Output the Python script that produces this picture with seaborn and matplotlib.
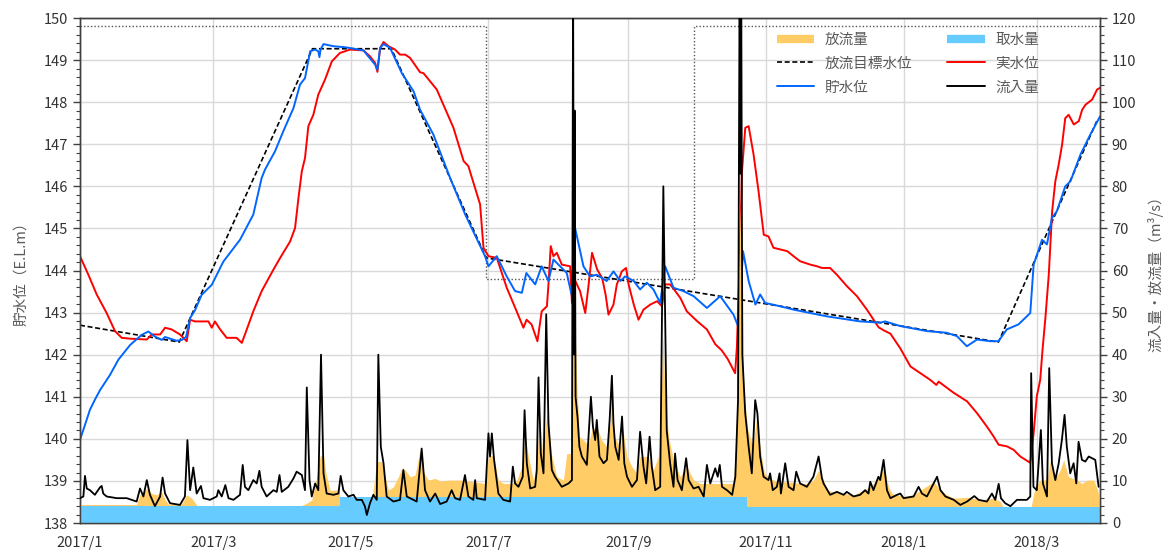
import numpy as np
import pandas as pd
import matplotlib
matplotlib.use("Agg")
import matplotlib.pyplot as plt
import matplotlib.dates as mdates
from matplotlib.lines import Line2D
from matplotlib.ticker import MultipleLocator, FuncFormatter
import seaborn as sns

START = pd.Timestamp("2017-01-01")
END = pd.Timestamp("2018-03-29")

# ---- 貯水位 (E.L.m) : day offset from 2017-01-01, level ----
storage_day = [0, 2.2, 4.4, 6.6, 8.9, 13.3, 17, 22.2, 27.3, 30.3, 33.2, 36.2, 37.7, 42.8, 45.1, 47,
               48.8, 51, 53.9, 58.4, 63.5, 70.9, 76.8, 80.5, 82, 86.4, 90.1, 94.6, 97.5, 99.7, 102,
               104.2, 105.6, 106.1, 106.6, 107.9, 112.3, 118.2, 125.6, 127.1, 130.8, 131.8, 133,
               134.5, 137.4, 142.6, 147.8, 150.7, 156.6, 164, 170.7, 179.5, 181, 184.7, 189.1,
               192.8, 195.8, 197.8, 201.7, 204.6, 207.6, 209.8, 215.7, 217.8, 219.4, 223.1, 226,
               229, 233.4, 236.4, 239.4, 241.6, 245.4, 248.2, 251.2, 254.1, 257.1, 259.3, 263,
               267.4, 271.9, 277.8, 283.7, 289.6, 291.9, 293.8, 296.3, 299.3, 301.4, 303.6, 310.3,
               316.2, 331, 345.8, 354.6, 356.8, 363.5, 375.3, 384.1, 388.6, 393, 397.5, 403.3,
               407, 410.7, 415.9, 421.1, 422.6, 426.3, 428.5, 430.7, 432.9, 436.6, 438.9, 443.3,
               447.7, 452]
storage_lv = [139.98, 140.33, 140.69, 140.93, 141.16, 141.52, 141.88, 142.23, 142.47, 142.55,
              142.43, 142.35, 142.42, 142.33, 142.35, 142.42, 142.87, 143.06, 143.42, 143.66,
              144.21, 144.73, 145.33, 146.2, 146.4, 146.83, 147.31, 147.86, 148.42, 148.57,
              149.21, 149.25, 149.21, 149.07, 149.25, 149.38, 149.33, 149.3, 149.23, 149.13,
              148.89, 148.77, 149.29, 149.38, 149.29, 148.69, 148.26, 147.82, 147.23, 146.2,
              145.33, 144.34, 144.1, 144.34, 143.86, 143.51, 143.47, 143.94, 143.67, 144.1,
              143.75, 144.26, 143.94, 143.43, 145.01, 144.1, 143.86, 143.9, 143.75, 143.98,
              143.75, 143.86, 143.75, 143.55, 143.71, 143.55, 143.23, 144.1, 143.59, 143.51,
              143.39, 143.11, 143.39, 142.95, 142.64, 144.46, 143.75, 143.19, 143.43, 143.23,
              143.15, 143.07, 142.91, 142.79, 142.76, 142.79, 142.68, 142.56, 142.52, 142.44,
              142.2, 142.36, 142.32, 142.32, 142.6, 142.72, 142.99, 144.14, 144.73, 144.62,
              145.25, 145.41, 146.0, 146.12, 146.75, 147.23, 147.66]

# ---- 実水位 (E.L.m) ----
actual_day = [0, 3.7, 7.4, 11.8, 15.5, 18.5, 22.2, 29.6, 31.8, 35.5, 37.7, 40.6, 44.3, 46.5, 47.3,
              48.8, 51, 56.9, 58.4, 59.8, 62.1, 65, 69.4, 71.7, 73.1, 76.8, 80.5, 85.7, 88.7,
              93.1, 95.3, 96.8, 98.3, 99.7, 101.2, 103.4, 105.6, 108.6, 111.6, 115.2, 119.7,
              125.6, 128.5, 130.8, 131.8, 133, 134.5, 136.7, 139.6, 141.8, 144.1, 146.3, 150.7,
              152.2, 158.1, 165.5, 170, 172.1, 177.3, 178.8, 181, 184.7, 189.1, 193.5, 196.5,
              197.9, 200.1, 202.7, 204.6, 206.9, 207.6, 208.6, 209.8, 211.3, 213.5, 217.2, 218,
              219.5, 221.6, 223.9, 225.4, 226.9, 229.2, 231.4, 232.9, 234.2, 236.4, 237.9, 240.1,
              242, 243.1, 245.4, 247.5, 249.7, 252.7, 255.7, 257.9, 259.3, 261.5, 263.8, 266,
              268.9, 273.4, 277.8, 281.5, 284.4, 287, 290.3, 291.1, 292.6, 293.3, 294.8, 296.3,
              298.5, 300.7, 303, 305.1, 307.3, 310.3, 313.4, 316.2, 319.1, 323.6, 326.6, 328.8,
              332.4, 335.4, 339.8, 344.3, 348.7, 351.7, 353.9, 356.1, 359.1, 363.5, 368, 376.8,
              379.5, 380.5, 387, 393.1, 397.5, 401.9, 404.8, 407.1, 410.8, 413.7, 416.7, 421.1,
              422.6, 424, 425.5, 426.6, 427.8, 429.3, 430.8, 432.2, 433.7, 435.2, 436.6, 438.1,
              440.4, 442.6, 444.1, 445.6, 448.5, 450.7, 452]
actual_lv = [144.34, 143.9, 143.43, 142.99, 142.56, 142.4, 142.38, 142.36, 142.48, 142.48, 142.64,
             142.6, 142.48, 142.36, 142.32, 142.83, 142.79, 142.79, 142.64, 142.79, 142.6, 142.4,
             142.4, 142.28, 142.48, 143.03, 143.51, 144.02, 144.3, 144.69, 145.01, 145.72,
             146.36, 146.67, 147.43, 147.7, 148.18, 148.54, 148.97, 149.17, 149.25, 149.23,
             149.09, 148.93, 148.72, 149.29, 149.43, 149.33, 149.25, 149.13, 149.13, 149.05,
             148.71, 148.69, 148.3, 147.39, 146.6, 146.48, 145.57, 144.54, 144.34, 144.3,
             143.59, 143.03, 142.64, 142.83, 142.72, 142.32, 143.03, 143.15, 143.67, 144.58,
             144.34, 144.42, 144.14, 144.1, 143.23, 143.75, 143.51, 142.99, 143.67, 144.42,
             144.02, 143.82, 143.43, 142.95, 143.19, 143.67, 143.98, 144.06, 143.67, 143.19,
             142.83, 143.07, 143.19, 143.27, 143.15, 143.67, 143.67, 143.51, 143.35, 143.03,
             142.8, 142.6, 142.25, 142.1, 141.9, 141.56, 142.19, 144.65, 146.32, 147.39, 147.43,
             146.75, 145.88, 144.85, 144.81, 144.54, 144.5, 144.46, 144.34, 144.22, 144.14,
             144.1, 144.06, 144.06, 143.9, 143.63, 143.39, 143.07, 142.83, 142.65, 142.58,
             142.5, 142.15, 141.72, 141.4, 141.28, 141.36, 141.1, 140.89, 140.61, 140.29,
             140.06, 139.86, 139.82, 139.74, 139.58, 139.43, 140.14, 141.01, 141.4, 142.16,
             142.87, 143.9, 145.41, 146.12, 146.52, 146.99, 147.62, 147.7, 147.47, 147.55,
             147.82, 147.94, 148.06, 148.3, 148.34]

# ---- 放流目標水位 (E.L.m) ----
target_day = [0, 44, 103, 138, 180, 407, 451]
target_lv = [142.7, 142.3, 149.27, 149.27, 144.3, 142.3, 147.6]

# ---- 制限水位 (dotted step) ----
limit_day = [0, 180, 180, 272, 272, 452]
limit_lv = [149.8, 149.8, 143.8, 143.8, 149.8, 149.8]

# ---- 取水量 (m3/s) ----
intake_day = [0, 115, 115, 295.5, 295.5, 452]
intake_q = [4.0, 4.0, 6.2, 6.2, 3.9, 3.9]

# ---- 流入量 (m3/s) ----
inflow_day = [0, 1.5, 2.2, 3, 4.4, 6.6, 8.9, 9.6, 10.3, 11.8, 16.3, 20.7, 25.1, 26.6, 28.1, 29.6,
              31, 33.2, 35.5, 36.6, 37.7, 39.9, 44.3, 46.5, 47.6, 48.8, 50.2, 51.7, 53.6, 54.7,
              57.6, 60.6, 61.3, 62.8, 64.4, 65.8, 68, 70.9, 72.1, 73.1, 74.6, 76.8, 78.3, 79.5,
              80.5, 82.7, 85.7, 87.2, 88.4, 89.4, 92.3, 94.6, 96, 98.3, 99.7, 100.5, 101.7,
              102.7, 104.2, 105.6, 106.8, 107.9, 109.3, 112.3, 114.5, 115.5, 116.7, 118.9, 121.2,
              122.6, 124.9, 126.3, 127.1, 128.5, 130, 131.5, 132.2, 133.3, 134.5, 135.9, 138.9,
              141.8, 143.3, 144.8, 149.2, 151.4, 152.9, 155.1, 157.4, 159.6, 162.5, 164.7, 166.2,
              168.4, 170.6, 172.1, 174.3, 175.1, 175.8, 179.5, 181, 181.7, 182.5, 183.5, 185.4,
              187.6, 190.6, 191.8, 192.8, 194.3, 196.2, 197, 198, 199.5, 201.7, 202.4, 203.2,
              204.2, 205.4, 206.6, 207.6, 209.1, 210.5, 213.5, 216.5, 218, 218.5, 218.9, 219.2,
              219.6, 220.5, 221.3, 222.4, 224.6, 226.4, 227.3, 228.3, 229, 230.2, 232, 233.5,
              234.7, 235.7, 236.4, 237.2, 238.7, 240.2, 241.2, 242.4, 244.6, 246.8, 248.2, 249.7,
              250.9, 252.4, 253.4, 254.9, 257.1, 258.5, 260, 261.5, 263, 263.7, 264.8, 266.7,
              268.6, 269.7, 271.9, 274.1, 276.4, 277.8, 279.3, 281.5, 282.6, 283.5, 284.5, 286.7,
              289, 290.4, 291.6, 292.3, 292.7, 293.0, 293.5, 294.8, 296.3, 297.7, 299.2, 300.2,
              301.4, 302.9, 305.1, 305.8, 307, 308.8, 310, 310.6, 312.5, 314, 316.2, 317.4,
              319.1, 322.1, 325, 327.3, 328.8, 329.5, 332.4, 335.4, 338.4, 339.8, 342.8, 345.7,
              347.9, 349.4, 350.2, 351.6, 353.8, 354.6, 356.1, 357.6, 359.1, 362.1, 363.5, 365,
              369.4, 371.6, 373.1, 375.3, 378.3, 379.8, 381.3, 383.5, 387.2, 390.1, 393.1, 396.3,
              398.2, 401.9, 404.1, 405.6, 407.1, 408.1, 410, 412.3, 415.2, 419.6, 421.1, 421.5,
              422.5, 424, 425.8, 426.7, 428.5, 429.5, 430.7, 432.2, 433.7, 435.1, 436.3, 437.3,
              438.8, 440.3, 441.5, 442.5, 444, 445.5, 447, 448.4, 449.9, 451.4]
inflow_q = [5.9, 6.3, 11.2, 8.2, 7.8, 6.7, 8.5, 8.8, 7.0, 6.3, 5.9, 5.9, 5.1, 8.2, 6.3, 10.2,
            6.7, 4.0, 6.3, 10.8, 7.0, 4.7, 4.3, 6.3, 19.7, 7.8, 13.2, 7.0, 8.8, 5.9,
            5.5, 6.3, 7.8, 6.3, 9.0, 5.9, 5.5, 6.7, 13.8, 8.6, 7.8, 10.2, 9.4, 12.4,
            8.6, 6.3, 7.8, 7.4, 11.4, 7.4, 8.6, 10.6, 12.2, 11.4, 7.8, 32.2, 10.2,
            6.3, 9.4, 7.8, 40, 11.8, 7.0, 6.7, 7.0, 11.2, 7.8, 6.3, 6.7,
            5.5, 5.5, 3.9, 1.9, 4.7, 6.7, 5.5, 40, 18.1, 14.2, 6.3, 5.1,
            5.5, 12.6, 6.3, 5.1, 17.7, 7.8, 5.1, 7.0, 4.5, 5.1, 7.8, 5.9,
            5.5, 11.4, 6.3, 5.5, 10.2, 5.9, 5.5, 21.3, 15.8, 21.3, 15, 7,
            5.5, 5.1, 13.4, 9.4, 8.6, 11, 26.8, 14.2, 8.2, 8.6, 12.6, 34.6,
            16.5, 11.8, 49.6, 23.7, 12.6, 11, 8.6, 9.4, 10.2, 130, 40, 98,
            30, 25, 18.1, 15.8, 13.8, 30, 22.9, 19.7, 24.5, 15.8, 14.2, 15,
            24.5, 35, 23.7, 18.1, 15, 25.3, 14.2, 11, 8.6, 10.2, 21.7, 13.4,
            9.4, 20.5, 13.4, 7.8, 8.6, 80, 22, 14.2, 8.6, 16.5, 10.2, 7.8,
            15.4, 10.2, 8.2, 8.6, 6.3, 13.8, 9.4, 13, 11, 13.8, 8.6, 7.8,
            6.7, 11, 29.2, 130, 83, 130, 40, 26, 18.1, 11.8, 29.2, 26,
            15.8, 11, 10.2, 11.8, 7.8, 8.6, 11.8, 7.0, 14.2, 8.6, 7.8, 12.2,
            9.4, 8.6, 11, 15.8, 10.6, 9.4, 6.7, 7.4, 6.7, 7.4, 6.3, 6.7,
            7.8, 7.0, 9.8, 7.8, 11, 10.2, 15, 7.8, 5.9, 6.7, 7.0, 5.9,
            6.3, 8.6, 7.0, 6.3, 9.4, 11, 7.8, 6.3, 5.5, 4.3, 5.1, 6.4,
            5.5, 5.1, 7.0, 5.5, 9.3, 5.9, 4.7, 4.0, 5.5, 5.5, 6.3, 35.6,
            8.6, 7.8, 22.1, 9.4, 6.3, 36.8, 14.2, 10.2, 14.2, 19.7, 25.7, 18.1,
            11.8, 14.2, 9.4, 19.3, 15, 14.6, 15.8, 15.4, 15, 8.6]

# ---- 放流量 (m3/s) ----
outflow_day = [0, 25, 26.6, 29.6, 31.8, 34, 36.2, 37.7, 39.2, 45, 47.3, 49.5, 51.7, 52.5, 96.5,
               97.5, 100.5, 102.7, 104.6, 106.4, 107.9, 109, 110.8, 113.8, 114.8, 115.3, 129,
               129.7, 131.5, 133.7, 135.2, 136.7, 138.9, 141.1, 142.6, 144.1, 146.3, 148.5, 150.7,
               152.2, 154.4, 157.4, 159.6, 164, 168.4, 174.3, 179.5, 181, 183.2, 185.4, 187.6,
               191.2, 193.6, 195.8, 197.3, 198.7, 200.9, 202.4, 203.6, 205.1, 206.9, 209.1, 211.3,
               214.2, 215.7, 217.5, 218.2, 218.6, 219.2, 220, 221.3, 223.1, 225.3, 226.8, 229,
               231.2, 233.5, 235, 235.7, 236.7, 239.4, 240.6, 242.4, 244.6, 246.8, 248.2, 251.9,
               254.1, 256.3, 257.4, 258.3, 259.3, 260.8, 263, 265.9, 268.9, 271.9, 274.8, 289.6,
               290.5, 291.1, 291.8, 292.6, 293.3, 294.1, 296, 298.2, 299.7, 301.8, 303.3, 305.9,
               308.8, 313.2, 319.1, 322.1, 325, 327.3, 329.5, 331, 334, 338.4, 342.8, 347.2,
               350.2, 353.8, 356.1, 358.3, 359.8, 365, 369.4, 372.4, 378.3, 381.3, 384.2, 387.2,
               393.1, 395.3, 399, 404.9, 407.9, 409, 409.6, 420.8, 421.5, 423.3, 425.5, 428.5,
               430, 431.7, 434.4, 435.9, 438, 441.8, 444, 446.3, 449.2, 451, 452]
outflow_q = [4.4, 4.4, 6.7, 8.2, 7.0, 6.7, 7.4, 5.5, 4.5, 4.5, 6.7, 5.9, 4.3, 3.0, 3.0,
             4.0, 4.7, 5.5, 10.2, 15.9, 16.2, 11.8, 7.8, 7.8, 8.5, 5.0, 5.0,
             7.0, 14.6, 14.6, 11, 7.8, 8.6, 11, 13, 12.6, 11, 11.4, 17.3,
             12.2, 10.2, 10.6, 10.0, 10.2, 10.2, 9.8, 9.4, 15.8, 16.2, 10.2, 9.4,
             9.4, 10.2, 13.4, 20.5, 15.8, 10.2, 13.4, 26, 15.8, 26, 15.8, 11,
             10.2, 16.5, 16.5, 40, 55, 50, 35, 20.5, 19.7, 18.5, 22.1, 22.9,
             19.7, 18.1, 23.7, 34, 20.5, 18.1, 22.1, 15.8, 13.4, 11.8, 15.8, 15.8,
             12.6, 15.8, 26, 45, 30, 20.5, 15, 11, 13.4, 10.2, 9.4, 9.4,
             18.1, 29.2, 60, 75, 60, 30.8, 22.1, 18.1, 24.5, 16.5, 11.8, 10.6,
             9.8, 9.8, 9.4, 9.4, 10.2, 12.6, 10.2, 7.8, 7.4, 7.0, 6.7, 7.8,
             8.6, 10.6, 13.4, 8.6, 7.0, 6.3, 6.7, 7.8, 9.8, 7.8, 6.7, 5.9,
             6.1, 5.9, 5.5, 5.9, 5.1, 3.9, 3.0, 3.0, 3.9, 8.6, 10.2, 10.2,
             15, 10.2, 12.6, 15, 11, 10.2, 9.4, 10.2, 10.2, 7.8, 4.7]

LEVEL_LABEL = "貯水位（E.L.m）"
FLOW_LABEL = "流入量・放流量（m³/s）"

C_OUT = "#FFCC66"
C_INTAKE = "#66CCFF"
C_STORAGE = "#0066FF"
C_ACTUAL = "#FF0000"
C_TEXT = "#595959"


def to_dates(days):
    return START + pd.to_timedelta(np.asarray(days, dtype=float), unit="D")


storage = pd.DataFrame({"date": to_dates(storage_day), "level": storage_lv})
actual = pd.DataFrame({"date": to_dates(actual_day), "level": actual_lv})
target = pd.DataFrame({"date": to_dates(target_day), "level": target_lv})
limit = pd.DataFrame({"date": to_dates(limit_day), "level": limit_lv})
inflow = pd.DataFrame({"date": to_dates(inflow_day), "q": inflow_q})
outflow = pd.DataFrame({"date": to_dates(outflow_day), "q": outflow_q})
intake = pd.DataFrame({"date": to_dates(intake_day), "q": intake_q})

sns.set_theme(style="white")
plt.rcParams["font.family"] = ["Noto Sans CJK JP", "DejaVu Sans"]

fig = plt.figure(figsize=(11.69, 5.51), dpi=100)
ax = fig.add_axes([80 / 1169, 28 / 551, 1020 / 1169, 505 / 551])
ax2 = ax.twinx()

# water levels (left axis)
sns.lineplot(data=limit, x="date", y="level", ax=ax, color="#555555", linewidth=1.0,
             linestyle=(0, (1, 1.5)), estimator=None, sort=False, legend=False)
sns.lineplot(data=target, x="date", y="level", ax=ax, color="black", linewidth=1.2,
             linestyle=(0, (3, 1.6)), estimator=None, sort=False, legend=False)
sns.lineplot(data=actual, x="date", y="level", ax=ax, color=C_ACTUAL, linewidth=1.4,
             estimator=None, sort=False, legend=False)
sns.lineplot(data=storage, x="date", y="level", ax=ax, color=C_STORAGE, linewidth=1.4,
             estimator=None, sort=False, legend=False)

# flows (right axis)
ax2.fill_between(outflow["date"], 0, outflow["q"], color=C_OUT, linewidth=0, zorder=1)
ax2.fill_between(intake["date"], 0, intake["q"], color=C_INTAKE, linewidth=0, zorder=2)
sns.lineplot(data=inflow, x="date", y="q", ax=ax2, color="black", linewidth=1.3,
             estimator=None, sort=False, legend=False, zorder=3)

ax.set_xlim(START, END)
ax.set_ylim(138, 150)
ax2.set_ylim(0, 120)

ticks = pd.date_range("2017-01-01", "2018-03-01", freq="2MS")
ax.set_xticks(mdates.date2num(ticks))
ax.xaxis.set_major_formatter(FuncFormatter(
    lambda v, p: f"{mdates.num2date(v).year}/{mdates.num2date(v).month}"))

ax.yaxis.set_major_locator(MultipleLocator(1))
ax.yaxis.set_minor_locator(MultipleLocator(0.2))
ax2.yaxis.set_major_locator(MultipleLocator(10))
ax2.yaxis.set_minor_locator(MultipleLocator(2))

for a in (ax, ax2):
    a.tick_params(which="major", direction="out", length=5, width=1, color="#404040",
                  labelsize=10.5, labelcolor="#333333")
    a.tick_params(which="minor", direction="out", length=3, width=0.8, color="#404040")
    for s in a.spines.values():
        s.set_color("#404040")
        s.set_linewidth(1.0)
ax.tick_params(axis="x", which="minor", length=0)
ax.tick_params(axis="x", pad=4)

ax.grid(True, which="major", color="#d9d9d9", linewidth=1.0)
ax2.grid(False)
ax.set_xlabel("")
ax.set_ylabel(LEVEL_LABEL, color=C_TEXT, fontsize=10.5, labelpad=11)
ax2.set_ylabel(FLOW_LABEL, color=C_TEXT, fontsize=10.5, labelpad=8, rotation=90)

handles = [
    Line2D([0], [0], color=C_OUT, linewidth=6, solid_capstyle="butt"),
    Line2D([0], [0], color="black", linewidth=1.2, linestyle=(0, (3, 1.6))),
    Line2D([0], [0], color=C_STORAGE, linewidth=1.4),
    Line2D([0], [0], color=C_INTAKE, linewidth=6, solid_capstyle="butt"),
    Line2D([0], [0], color=C_ACTUAL, linewidth=1.4),
    Line2D([0], [0], color="black", linewidth=1.4),
]
labels = ["放流量", "放流目標水位", "貯水位", "取水量", "実水位", "流入量"]
leg = ax2.legend(handles, labels, ncol=2, loc="upper left", bbox_to_anchor=(0.670, 0.997),
                 frameon=False, fontsize=10.5, handlelength=2.6, handletextpad=0.7,
                 columnspacing=2.4, labelspacing=0.68)
for t in leg.get_texts():
    t.set_color(C_TEXT)

fig.savefig("out.png", dpi=100)
